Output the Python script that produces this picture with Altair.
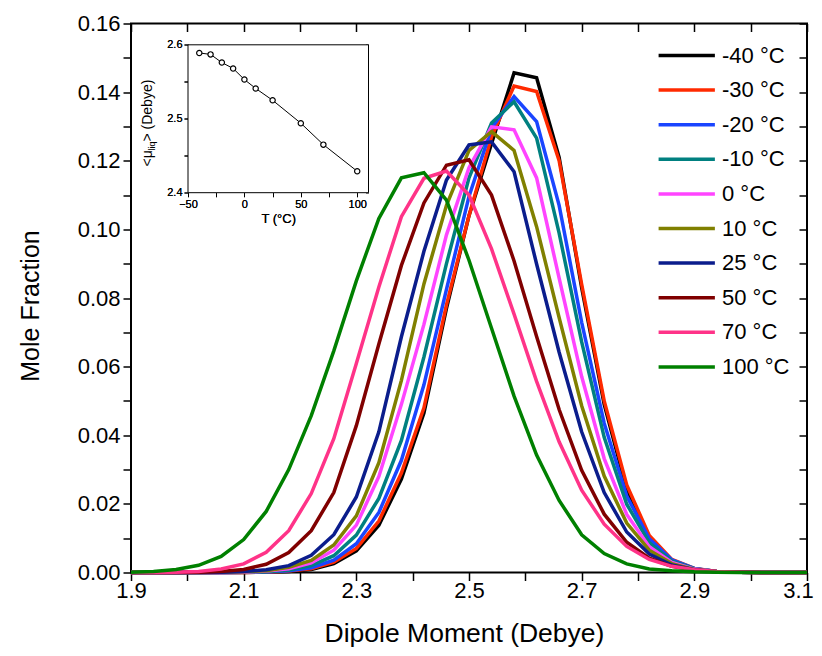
import altair as alt
import pandas as pd

# ---------------- data ----------------
dipole = [1.90, 1.94, 1.98, 2.02, 2.06, 2.10, 2.14, 2.18, 2.22, 2.26, 2.30,
          2.34, 2.38, 2.42, 2.46, 2.50, 2.54, 2.58, 2.62, 2.66, 2.70, 2.74,
          2.78, 2.82, 2.86, 2.90, 2.94, 2.98, 3.02, 3.06, 3.10]

labels = ["-40 °C", "-30 °C", "-20 °C", "-10 °C", "0 °C",
          "10 °C", "25 °C", "50 °C", "70 °C", "100 °C"]
colors = ["#000000", "#FF2A00", "#1A45FF", "#008080", "#FF44FF",
          "#808000", "#0B1D8C", "#800000", "#FF3388", "#008000"]

m40 = [0, 0, 0, 0, 0, 0, 0.0001, 0.0003, 0.0009, 0.0026, 0.0063, 0.0138, 0.0272, 0.0465, 0.077, 0.104,
       0.125, 0.1456, 0.1442, 0.121, 0.083, 0.049, 0.0243, 0.0101, 0.0035, 0.0010, 0.0003, 0.0001, 0, 0, 0]
m30 = [0, 0, 0, 0, 0, 0, 0.0001, 0.0004, 0.0011, 0.003, 0.007, 0.015, 0.029, 0.048, 0.078, 0.104,
       0.127, 0.1418, 0.1402, 0.12, 0.084, 0.05, 0.0255, 0.0108, 0.0038, 0.0012, 0.0003, 0.0001, 0, 0, 0]
m20 = [0, 0, 0, 0, 0, 0.0001, 0.00015, 0.0005, 0.0014, 0.0036, 0.0084, 0.0175, 0.0327, 0.0547, 0.0825, 0.1096,
       0.1295, 0.1387, 0.1314, 0.107, 0.0729, 0.0435, 0.0223, 0.0098, 0.0037, 0.0012, 0.0003, 0.0001, 0, 0, 0]
m10 = [0, 0, 0, 0, 0, 0.0001, 0.0002, 0.0007, 0.002, 0.0049, 0.0109, 0.0216, 0.0385, 0.0628, 0.090, 0.115,
       0.131, 0.1372, 0.1266, 0.0989, 0.0672, 0.0394, 0.0199, 0.0087, 0.0033, 0.0011, 0.0003, 0.0001, 0, 0, 0]
p0 = [0, 0, 0, 0, 0, 0.0001, 0.0004, 0.0011, 0.0028, 0.0065, 0.0138, 0.028, 0.049, 0.0723, 0.0984, 0.118,
      0.1299, 0.129, 0.115, 0.0858, 0.0571, 0.0332, 0.0169, 0.0075, 0.0029, 0.001, 0.0003, 0.0001, 0, 0, 0]
p10 = [0, 0, 0, 0, 0.0001, 0.0002, 0.0005, 0.0015, 0.0035, 0.008, 0.0165, 0.032, 0.056, 0.0841, 0.107, 0.123,
       0.1285, 0.123, 0.1008, 0.0743, 0.0486, 0.0281, 0.0144, 0.0065, 0.0026, 0.0009, 0.0003, 0.0001, 0, 0, 0]
p25 = [0, 0, 0, 0, 0.0001, 0.0003, 0.0008, 0.002, 0.005, 0.011, 0.022, 0.041, 0.0687, 0.0936, 0.1144, 0.1246,
       0.1255, 0.1168, 0.0899, 0.0642, 0.041, 0.0233, 0.0118, 0.0054, 0.0022, 0.0008, 0.0002, 0.0001, 0, 0, 0]
p50 = [0, 0, 0, 0.0001, 0.0003, 0.0009, 0.0024, 0.0058, 0.0122, 0.0233, 0.0428, 0.0666, 0.0895, 0.1077, 0.1187, 0.1203,
       0.110, 0.0908, 0.0688, 0.0475, 0.0298, 0.017, 0.0088, 0.0042, 0.0018, 0.0007, 0.0002, 0.0001, 0, 0, 0]
p70 = [0, 0, 0.0001, 0.0003, 0.001, 0.0025, 0.0059, 0.0122, 0.023, 0.039, 0.0609, 0.0832, 0.1037, 0.1149, 0.117, 0.110,
       0.0943, 0.0753, 0.0557, 0.0381, 0.024, 0.0141, 0.0076, 0.0038, 0.0018, 0.0008, 0.0003, 0.0001, 0, 0, 0]
p100 = [0.0001, 0.0003, 0.0009, 0.0021, 0.0047, 0.0096, 0.0178, 0.030, 0.0457, 0.0646, 0.085, 0.1032, 0.115, 0.1165, 0.1085, 0.091,
        0.0712, 0.0514, 0.0342, 0.021, 0.011, 0.0055, 0.0025, 0.001, 0.0005, 0.0002, 0.0001, 0, 0, 0, 0]
series = [m40, m30, m20, m10, p0, p10, p25, p50, p70, p100]

# inset: mean dipole of the liquid vs temperature
inset_T = [-40, -30, -20, -10, 0, 10, 25, 50, 70, 100]
inset_mu = [2.589, 2.587, 2.576, 2.568, 2.553, 2.541, 2.525, 2.494, 2.465, 2.429]

# tick positions
x_ticks = [1.9, 2.0, 2.1, 2.2, 2.3, 2.4, 2.5, 2.6, 2.7, 2.8, 2.9, 3.0, 3.1]
y_ticks = [0.0, 0.01, 0.02, 0.03, 0.04, 0.05, 0.06, 0.07, 0.08, 0.09, 0.10,
           0.11, 0.12, 0.13, 0.14, 0.15, 0.16]
ix_ticks = [-50, -25, 0, 25, 50, 75, 100]
iy_ticks = [2.4, 2.45, 2.5, 2.55, 2.6]

# ---------------- build ----------------
rows = []
for lab, vals in zip(labels, series):
    for xv, v in zip(dipole, vals):
        rows.append({"Temperature": lab, "Dipole": xv, "Fraction": v})
df = pd.DataFrame(rows)
inset_df = pd.DataFrame({"T": inset_T, "mu": inset_mu})

W, H = 676, 549
FONT = "Liberation Sans"

x_main = alt.Scale(domain=[1.9, 3.1], nice=False, zero=False)
y_main = alt.Scale(domain=[0, 0.16], nice=False, zero=False)

IX0, IX1 = 57, 237.5
IY0, IY1 = 21.3, 169.2
x_in = alt.Scale(domain=[-50, 110], range=[IX0, IX1], nice=False, zero=False)
y_in = alt.Scale(domain=[2.4, 2.6], range=[IY1, IY0], nice=False, zero=False)

lines = alt.Chart(df).mark_line(strokeWidth=3.5).encode(
    x=alt.X("Dipole:Q", scale=x_main,
            axis=alt.Axis(values=x_ticks, orient="bottom",
                          labelExpr="round(datum.value*10) % 2 == 1 ? format(datum.value, '.1f') : ''",
                          labelOffset={"condition": {"test": "datum.value > 3.05", "value": -9}, "value": 0},
                          labelOverlap=False, labelFlush=False, tickSize=8, tickWidth=1.5,
                          domain=False, grid=False, labelFontSize=22, labelPadding=0,
                          title="Dipole Moment (Debye)", titleFontSize=26.5, titleFontWeight="normal",
                          titleX=333, titleY=61, titleBaseline="middle", titleAlign="center")),
    y=alt.Y("Fraction:Q", scale=y_main,
            axis=alt.Axis(values=y_ticks, orient="left",
                          labelExpr="round(datum.value*100) % 2 == 0 ? format(datum.value, '.2f') : ''",
                          labelOverlap=False, labelFlush=False, tickSize=8, tickWidth=1.5,
                          domain=False, grid=False, labelFontSize=22, labelPadding=3,
                          title="Mole Fraction", titleFontSize=25, titleFontWeight="normal",
                          titleAngle=270, titleX=-101, titleY=282, titleBaseline="middle",
                          titleAlign="center")),
    color=alt.Color("Temperature:N", scale=alt.Scale(domain=labels, range=colors),
                    legend=alt.Legend(title=None, orient="none", legendX=563, legendY=20.5,
                                      symbolType="M-5,0H1", symbolSize=352,
                                      symbolStrokeWidth=3.5, labelFontSize=22, labelFont=FONT,
                                      labelColor="black", rowPadding=11.6, labelOffset=5,
                                      padding=0, labelLimit=200)),
)

dummy = pd.DataFrame({"Dipole": [2.5], "Fraction": [0.08]})
mirror = alt.Chart(dummy).mark_point(opacity=0).encode(
    x=alt.X("Dipole:Q", scale=x_main,
            axis=alt.Axis(values=x_ticks, orient="top", labels=False, tickSize=8, offset=-8,
                          tickWidth=1.5, domain=False, grid=False, title=None)),
    y=alt.Y("Fraction:Q", scale=y_main,
            axis=alt.Axis(values=y_ticks, orient="right", labels=False, tickSize=8, offset=-8,
                          tickWidth=1.5, domain=False, grid=False, title=None)),
)

frame_df = pd.DataFrame({"t0": [-50], "t1": [110], "m0": [2.4], "m1": [2.6]})
inset_frame = alt.Chart(frame_df).mark_rect(fill="white", stroke="black", strokeWidth=1).encode(
    x=alt.X("t0:Q", scale=x_in, axis=None), x2="t1:Q",
    y=alt.Y("m0:Q", scale=y_in, axis=None), y2="m1:Q",
)

inset_base = alt.Chart(inset_df).encode(
    x=alt.X("T:Q", scale=x_in,
            axis=alt.Axis(values=ix_ticks, orient="bottom", offset=-(H - IY1),
                          labelExpr="datum.value % 50 == 0 ? format(datum.value, 'd') : ''",
                          labelOverlap=False, labelFlush=False, tickSize=4, tickWidth=1,
                          domain=False, grid=False, labelFontSize=11, labelPadding=2,
                          title="T (°C)", titleFontSize=13, titleFontWeight="normal",
                          titlePadding=3)),
    y=alt.Y("mu:Q", scale=y_in,
            axis=alt.Axis(values=iy_ticks, orient="left", offset=-IX0,
                          labelExpr="round(datum.value*100) % 10 == 0 ? format(datum.value, '.1f') : ''",
                          labelOverlap=False, labelFlush=False, tickSize=4, tickWidth=1,
                          domain=False, grid=False, labelFontSize=11, labelPadding=2, title=None)),
)
inset_line = inset_base.mark_line(color="black", strokeWidth=1)
inset_pts = inset_base.mark_point(shape="circle", filled=True, fill="white", stroke="black",
                                  strokeWidth=1.2, size=28, opacity=1)

idummy = pd.DataFrame({"T": [0], "mu": [2.5]})
inset_mirror = alt.Chart(idummy).mark_point(opacity=0).encode(
    x=alt.X("T:Q", scale=x_in,
            axis=alt.Axis(values=ix_ticks, orient="top", offset=-(IY0 + 3), labels=False,
                          tickSize=3, tickWidth=1, domain=False, grid=False, title=None)),
    y=alt.Y("mu:Q", scale=y_in,
            axis=alt.Axis(values=iy_ticks, orient="right", offset=-(W - IX1 + 3), labels=False,
                          tickSize=3, tickWidth=1, domain=False, grid=False, title=None)),
)

one = pd.DataFrame({"k": [0]})
t1 = alt.Chart(one).mark_text(text="<μ", angle=270, align="left", baseline="middle",
                              font=FONT, fontSize=14, color="black").encode(
    x=alt.value(17), y=alt.value(143))
t2 = alt.Chart(one).mark_text(text="liq", angle=270, align="left", baseline="middle",
                              font=FONT, fontSize=9, color="black").encode(
    x=alt.value(21), y=alt.value(127))
t3 = alt.Chart(one).mark_text(text="> (Debye)", angle=270, align="left", baseline="middle",
                              font=FONT, fontSize=14, color="black").encode(
    x=alt.value(17), y=alt.value(118))

chart = alt.layer(
    lines, mirror, inset_frame, inset_line, inset_pts, inset_mirror, t1, t2, t3
).resolve_scale(
    x="independent", y="independent"
).properties(
    width=W, height=H,
    autosize=alt.AutoSizeParams(type="none"),
    padding={"left": 123, "top": 15.5, "right": 7, "bottom": 75.5},
).configure_view(
    stroke="black", strokeWidth=2
).configure_axis(
    labelFont=FONT, titleFont=FONT, labelColor="black", titleColor="black",
    tickColor="black", domainColor="black"
)

chart.save("out.html", embed_options={"renderer": "svg", "actions": False})
